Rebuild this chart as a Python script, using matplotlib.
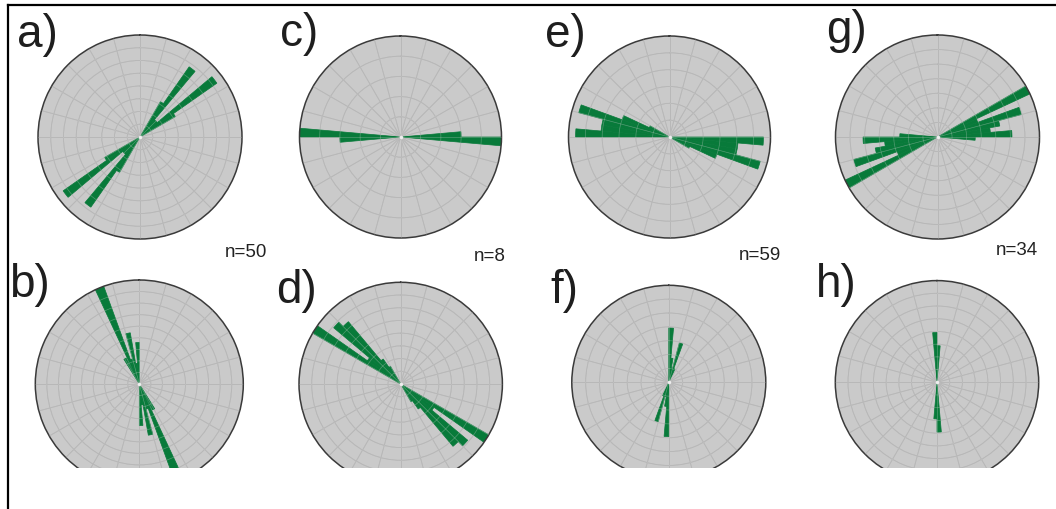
import matplotlib
matplotlib.use('Agg')
import matplotlib.pyplot as plt
import numpy as np
from matplotlib.patches import Rectangle
from matplotlib.lines import Line2D

plt.rcParams['font.family'] = ['Liberation Sans', 'DejaVu Sans']

# ---- data: bidirectional rose diagrams, 5 degree bins (azimuth of bin centre, 0-180),
# petal length as fraction of the outer circle
a_dir = [32.5, 37.5, 42.5, 47.5, 52.5, 57.5]
a_len = [0.40, 0.84, 0.22, 0.22, 0.92, 0.40]

b_dir = [150.5, 157.5, 162.5, 167.5, 172.5, 177.5]
b_len = [0.28, 1.00, 0.25, 0.50, 0.20, 0.40]

c_dir = [87.5, 92.5]
c_len = [0.60, 1.00]

d_dir = [122.5, 127.5, 132.5, 137.5, 142.5, 147.5]
d_len = [1.00, 0.40, 0.86, 0.80, 0.30, 0.20]

e_dir = [92.5, 97.5, 102.5, 107.5, 112.5, 117.5]
e_len = [0.93, 0.68, 0.68, 0.93, 0.50, 0.22]

f_dir = [2.5, 7.5, 12.5, 17.5, 22.5]
f_len = [0.56, 0.25, 0.15, 0.42, 0.15]

g_dir = [62.5, 67.5, 72.5, 77.5, 82.5, 87.5, 92.5]
g_len = [1.00, 0.42, 0.85, 0.62, 0.52, 0.73, 0.37]

h_dir = [2.5, 177.5]
h_len = [0.36, 0.49]

panel_labels = ['a)', 'b)', 'c)', 'd)', 'e)', 'f)', 'g)', 'h)']
n_labels = {'a)': 'n=50', 'c)': 'n=8', 'e)': 'n=59', 'g)': 'n=34'}
panel_data = {'a)': (a_dir, a_len), 'b)': (b_dir, b_len), 'c)': (c_dir, c_len),
              'd)': (d_dir, d_len), 'e)': (e_dir, e_len), 'f)': (f_dir, f_len),
              'g)': (g_dir, g_len), 'h)': (h_dir, h_len)}

# ---- layout (pixels)
W, H = 1056, 510
fig = plt.figure(figsize=(W / 100, H / 100), dpi=100)

layout = {  # cx, cy, r, rings, label x, label baseline, n x, n baseline
    'a)': (140, 138, 102, 8, 17, 47, 246, 257),
    'c)': (400.5, 138, 101, 5, 280, 46, 490, 261),
    'e)': (669.5, 138, 101, 6, 545, 47, 760, 260),
    'g)': (937.5, 138, 102, 7, 826, 43, 1017, 255),
    'b)': (139.3, 385, 104, 9, 9, 297, None, None),
    'd)': (400.7, 385, 101.7, 8, 276, 303, None, None),
    'f)': (668.8, 383.3, 97, 7, 550, 303, None, None),
    'h)': (937, 383.3, 101.7, 8, 816, 297, None, None),
}

GREEN = '#087a3a'
GRAY = '#cacaca'
GRID = '#a9a9a9'

for lab in panel_labels:
    cx, cy, r, rings, lx, ly, nx, ny = layout[lab]
    ax = fig.add_axes([(cx - r) / W, 1 - (cy + r) / H, 2 * r / W, 2 * r / H],
                      projection='polar')
    ax.set_theta_zero_location('N')
    ax.set_theta_direction(-1)
    ax.set_facecolor(GRAY)
    dirs, lens = panel_data[lab]
    dirs = np.array(dirs)
    lens = np.array(lens)
    th = np.deg2rad(np.concatenate([dirs, dirs + 180]))
    ln = np.concatenate([lens, lens])
    ax.bar(th, ln, width=np.deg2rad(5), bottom=0, color=GREEN,
           edgecolor=GREEN, linewidth=0.5, align='center', zorder=2)
    ax.set_ylim(0, 1)
    ring_r = np.linspace(1 / rings, 1, rings)[:-1]
    spokes = np.arange(0, 360, 15)
    ax.set_rgrids(ring_r, labels=[])
    ax.set_thetagrids(spokes, labels=[])
    ax.set_axisbelow(True)
    ax.grid(True, color=GRID, linewidth=0.6)
    # faint grid lines seen through the petals
    tt = np.linspace(0, 2 * np.pi, 361)
    for rr in ring_r:
        ax.plot(tt, np.full_like(tt, rr), color='#d8d8d8', lw=0.5, alpha=0.35, zorder=3)
    for s in spokes:
        ax.plot([np.deg2rad(s)] * 2, [0, 1], color='#d8d8d8', lw=0.5, alpha=0.35, zorder=3)
    ax.tick_params(length=0, pad=0)
    ax.spines['polar'].set_color('#3a3a3a')
    ax.spines['polar'].set_linewidth(1.1)
    ax.plot([0], [0], marker='o', markersize=2.5, color='#eeeeee',
            markeredgewidth=0, zorder=5)
    fig.text(lx / W, 1 - ly / H, lab, fontsize=33, color='#1e1e1e',
             ha='left', va='baseline')
    if nx is not None:
        fig.text(nx / W, 1 - ny / H, n_labels[lab], fontsize=13.5,
                 color='#222222', ha='center', va='baseline')

# white area that cuts the lower circles
fig.add_artist(Rectangle((9.5 / W, 0), 1, (H - 469) / H,
                         transform=fig.transFigure, facecolor='white',
                         edgecolor='none', zorder=10))
# frame lines (top and left)
fig.add_artist(Line2D([8 / W, 1], [1 - 6 / H, 1 - 6 / H], transform=fig.transFigure,
                      color='black', linewidth=1.6, zorder=11))
fig.add_artist(Line2D([8 / W, 8 / W], [0, 1 - 6 / H], transform=fig.transFigure,
                      color='black', linewidth=1.6, zorder=11))

fig.savefig('out.png', dpi=100)
